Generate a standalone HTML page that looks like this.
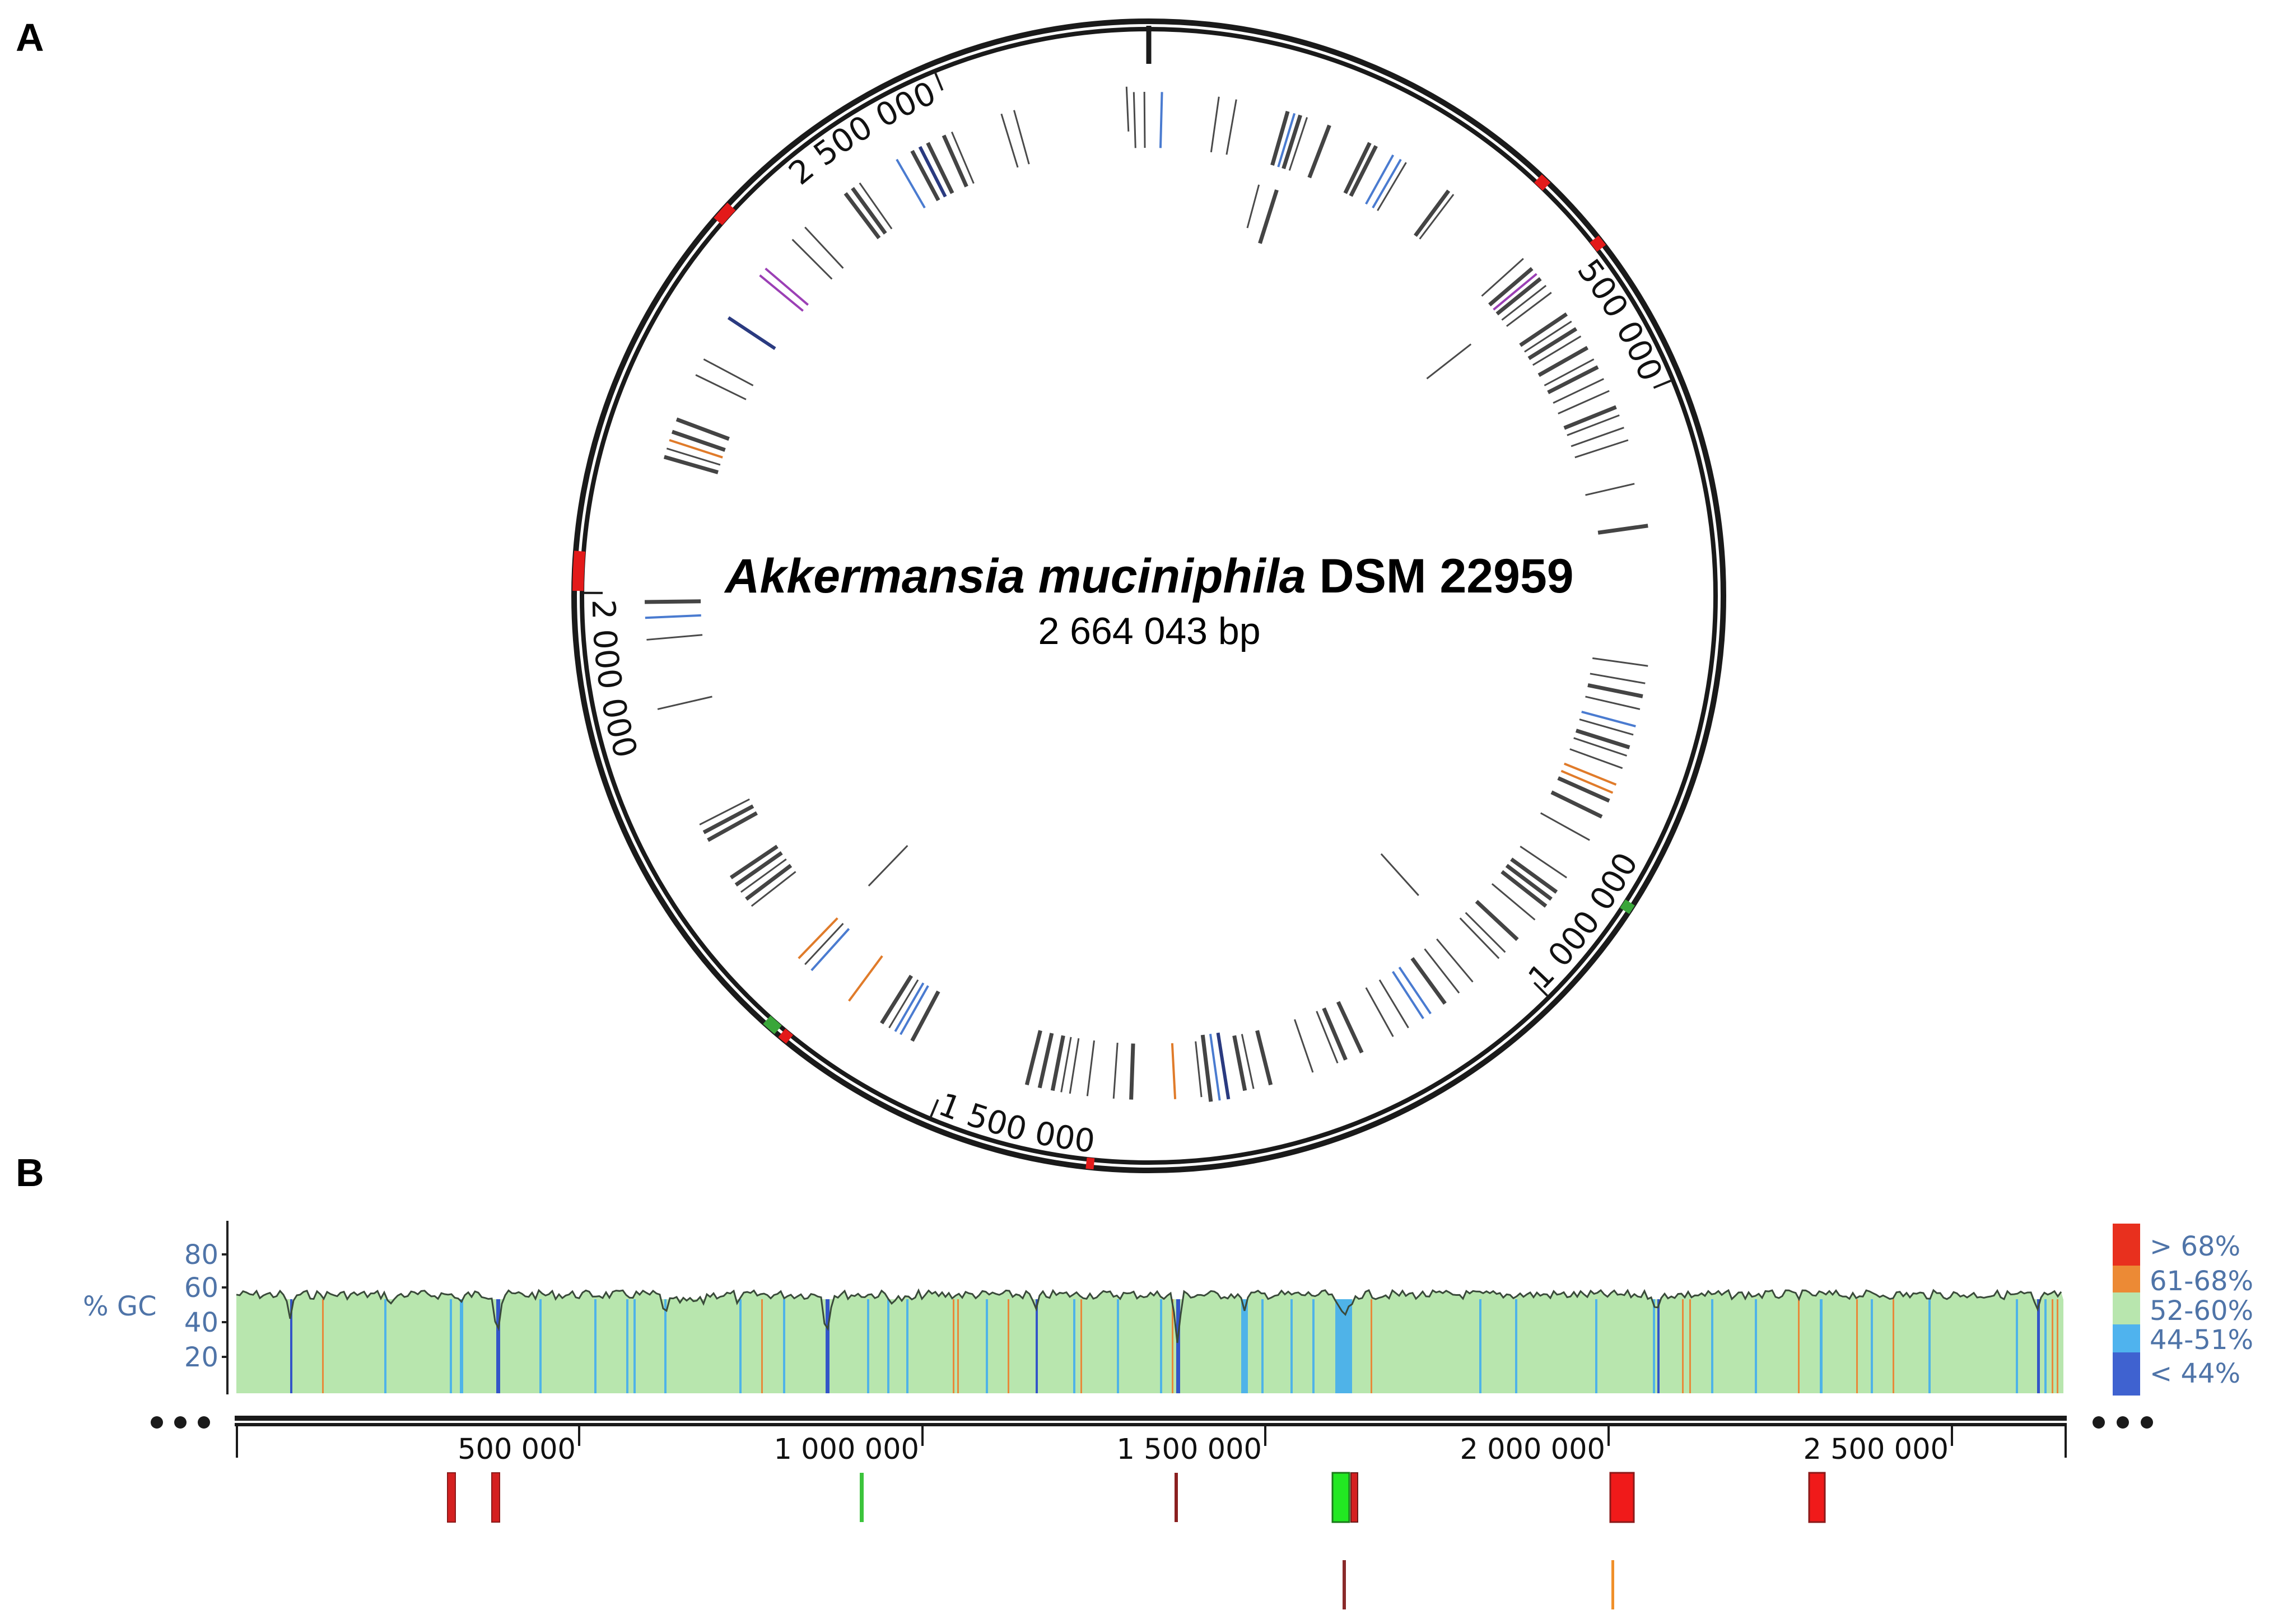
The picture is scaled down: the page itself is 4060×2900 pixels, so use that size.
<!DOCTYPE html>
<html><head><meta charset="utf-8"><style>
html,body{margin:0;padding:0;background:#fff}
svg{display:block}
.t{stroke:#4a4a4a;stroke-width:3}
.k{stroke:#444;stroke-width:7}
.b{stroke:#4a7bd0;stroke-width:4}
.o{stroke:#e07b2a;stroke-width:4}
.p{stroke:#9b3fb5;stroke-width:4}
.n{stroke:#2a3a80;stroke-width:6}
.lb{fill:#4fb3e8}.db{fill:#3355c8}.or{fill:#e8893a}
.lab{font-family:"DejaVu Sans",sans-serif;font-size:57px;fill:#111}
.bl{font-family:"DejaVu Sans",sans-serif;font-size:48px;fill:#4f74a8}
</style></head><body>
<svg width="4060" height="2900" viewBox="0 0 4060 2900" xmlns="http://www.w3.org/2000/svg">
<text x="28" y="91" font-family="Liberation Sans,sans-serif" font-weight="bold" font-size="70">A</text>
<text x="28" y="2118" font-family="Liberation Sans,sans-serif" font-weight="bold" font-size="70">B</text>

<g transform="translate(2051,1064)">
<defs>
<path id="cw" d="M 0,-960 A 960 960 0 1 1 0,960 A 960 960 0 1 1 0,-960"/>
<path id="ccw" d="M -976.9,-172.3 A 992 992 0 1 0 976.9,172.3 A 992 992 0 1 0 -976.9,-172.3"/>
</defs>
<circle r="1026" fill="none" stroke="#1a1a1a" stroke-width="10"/>
<circle r="1012" fill="none" stroke="#1a1a1a" stroke-width="8"/>
<g fill="none" stroke-width="20">
<circle r="1019" stroke="#e31a1a" transform="rotate(-47)" stroke-dasharray="21 10000"/>
<circle r="1019" stroke="#e31a1a" transform="rotate(-38.7)" stroke-dasharray="21 10000"/>
<circle r="1019" stroke="#e31a1a" transform="rotate(221)" stroke-dasharray="36 10000"/>
<circle r="1019" stroke="#e31a1a" transform="rotate(180.5)" stroke-dasharray="71 10000"/>
<circle r="1019" stroke="#e31a1a" transform="rotate(129)" stroke-dasharray="18 10000"/>
<circle r="1019" stroke="#3aa63a" transform="rotate(130.5)" stroke-dasharray="27 10000"/>
<circle r="1019" stroke="#e31a1a" transform="rotate(95.5)" stroke-dasharray="14 10000"/>
<circle r="1019" stroke="#3aa63a" transform="rotate(32.5)" stroke-dasharray="18 10000"/>
</g>
<g stroke="#1a1a1a" stroke-width="4">
<line y1="-950" y2="-1018" stroke-width="9"/>
<line y1="-975" y2="-1008" transform="rotate(67.6)"/>
<line y1="-975" y2="-1008" transform="rotate(135.1)"/>
<line y1="-975" y2="-1008" transform="rotate(202.7)"/>
<line y1="-975" y2="-1008" transform="rotate(270.3)"/>
<line y1="-975" y2="-1008" transform="rotate(337.8)"/>
</g>
<text class="lab" text-anchor="end"><textPath href="#cw" startOffset="5645">2 500 000</textPath></text>
<text class="lab" text-anchor="end"><textPath href="#cw" startOffset="1118">500 000</textPath></text>
<text class="lab"><textPath href="#ccw" startOffset="180">2 000 000</textPath></text>
<text class="lab"><textPath href="#ccw" startOffset="1350">1 500 000</textPath></text>
<text class="lab"><textPath href="#ccw" startOffset="2520">1 000 000</textPath></text>

<g>
<line class="t" y1="-830" y2="-910" transform="rotate(357.5)"/>
<line class="t" y1="-800" y2="-900" transform="rotate(358.3)"/>
<line class="t" y1="-800" y2="-900" transform="rotate(359.5)"/>
<line class="b" y1="-800" y2="-900" transform="rotate(1.5)"/>
<line class="t" y1="-800" y2="-900" transform="rotate(8)"/>
<line class="t" y1="-800" y2="-900" transform="rotate(10)"/>
<line class="k" y1="-800" y2="-900" transform="rotate(16)"/>
<line class="b" y1="-800" y2="-900" transform="rotate(16.8)"/>
<line class="k" y1="-800" y2="-900" transform="rotate(17.5)"/>
<line class="t" y1="-800" y2="-900" transform="rotate(18.3)"/>
<line class="k" y1="-800" y2="-900" transform="rotate(21)"/>
<line class="k" y1="-800" y2="-900" transform="rotate(26)"/>
<line class="k" y1="-800" y2="-900" transform="rotate(26.8)"/>
<line class="b" y1="-800" y2="-900" transform="rotate(29)"/>
<line class="b" y1="-800" y2="-900" transform="rotate(30)"/>
<line class="t" y1="-800" y2="-900" transform="rotate(30.7)"/>
<line class="k" y1="-800" y2="-900" transform="rotate(36.5)"/>
<line class="t" y1="-800" y2="-900" transform="rotate(37.2)"/>
<line class="t" y1="-680" y2="-760" transform="rotate(15)"/>
<line class="k" y1="-660" y2="-760" transform="rotate(17.5)"/>
<line class="t" y1="-800" y2="-900" transform="rotate(48)"/>
<line class="k" y1="-800" y2="-900" transform="rotate(49.5)"/>
<line class="p" y1="-800" y2="-900" transform="rotate(50.3)"/>
<line class="k" y1="-800" y2="-900" transform="rotate(51)"/>
<line class="t" y1="-800" y2="-900" transform="rotate(52)"/>
<line class="t" y1="-800" y2="-900" transform="rotate(53)"/>
<line class="k" y1="-800" y2="-900" transform="rotate(56)"/>
<line class="t" y1="-800" y2="-900" transform="rotate(57)"/>
<line class="k" y1="-800" y2="-900" transform="rotate(58)"/>
<line class="t" y1="-800" y2="-900" transform="rotate(59)"/>
<line class="k" y1="-800" y2="-900" transform="rotate(60.5)"/>
<line class="t" y1="-800" y2="-900" transform="rotate(62)"/>
<line class="k" y1="-800" y2="-900" transform="rotate(63)"/>
<line class="t" y1="-800" y2="-900" transform="rotate(64.5)"/>
<line class="t" y1="-800" y2="-900" transform="rotate(66)"/>
<line class="k" y1="-800" y2="-900" transform="rotate(68)"/>
<line class="t" y1="-800" y2="-900" transform="rotate(69)"/>
<line class="t" y1="-800" y2="-900" transform="rotate(70.5)"/>
<line class="t" y1="-800" y2="-900" transform="rotate(72)"/>
<line class="t" y1="-630" y2="-730" transform="rotate(52)"/>
<line class="t" y1="-800" y2="-890" transform="rotate(77)"/>
<line class="k" y1="-810" y2="-900" transform="rotate(82)"/>
<line class="t" y1="-800" y2="-900" transform="rotate(98)"/>
<line class="t" y1="-800" y2="-900" transform="rotate(100)"/>
<line class="k" y1="-800" y2="-900" transform="rotate(101.5)"/>
<line class="t" y1="-800" y2="-900" transform="rotate(103)"/>
<line class="b" y1="-800" y2="-900" transform="rotate(105)"/>
<line class="t" y1="-800" y2="-900" transform="rotate(106)"/>
<line class="k" y1="-800" y2="-900" transform="rotate(107.5)"/>
<line class="t" y1="-800" y2="-900" transform="rotate(108.5)"/>
<line class="t" y1="-800" y2="-900" transform="rotate(110)"/>
<line class="o" y1="-800" y2="-900" transform="rotate(112)"/>
<line class="o" y1="-800" y2="-900" transform="rotate(113)"/>
<line class="k" y1="-800" y2="-900" transform="rotate(114)"/>
<line class="k" y1="-800" y2="-900" transform="rotate(116)"/>
<line class="t" y1="-800" y2="-900" transform="rotate(119)"/>
<line class="t" y1="-800" y2="-900" transform="rotate(124)"/>
<line class="k" y1="-800" y2="-900" transform="rotate(126)"/>
<line class="k" y1="-800" y2="-900" transform="rotate(127)"/>
<line class="k" y1="-800" y2="-900" transform="rotate(128)"/>
<line class="t" y1="-800" y2="-900" transform="rotate(130)"/>
<line class="k" y1="-800" y2="-900" transform="rotate(133)"/>
<line class="t" y1="-800" y2="-900" transform="rotate(135)"/>
<line class="t" y1="-800" y2="-900" transform="rotate(136)"/>
<line class="t" y1="-620" y2="-720" transform="rotate(138)"/>
<line class="t" y1="-800" y2="-900" transform="rotate(140)"/>
<line class="t" y1="-800" y2="-900" transform="rotate(142)"/>
<line class="k" y1="-800" y2="-900" transform="rotate(144)"/>
<line class="b" y1="-800" y2="-900" transform="rotate(146)"/>
<line class="b" y1="-800" y2="-900" transform="rotate(147)"/>
<line class="t" y1="-800" y2="-900" transform="rotate(149)"/>
<line class="t" y1="-800" y2="-900" transform="rotate(151)"/>
<line class="k" y1="-800" y2="-900" transform="rotate(155)"/>
<line class="k" y1="-800" y2="-900" transform="rotate(157)"/>
<line class="t" y1="-800" y2="-900" transform="rotate(158)"/>
<line class="t" y1="-800" y2="-900" transform="rotate(161)"/>
<line class="k" y1="-800" y2="-900" transform="rotate(166)"/>
<line class="t" y1="-800" y2="-900" transform="rotate(168)"/>
<line class="k" y1="-800" y2="-900" transform="rotate(169)"/>
<line class="n" y1="-790" y2="-910" transform="rotate(171)"/>
<line class="b" y1="-790" y2="-910" transform="rotate(172)"/>
<line class="k" y1="-790" y2="-910" transform="rotate(173)"/>
<line class="t" y1="-800" y2="-900" transform="rotate(174)"/>
<line class="o" y1="-800" y2="-900" transform="rotate(177)"/>
<line class="k" y1="-800" y2="-900" transform="rotate(182)"/>
<line class="t" y1="-800" y2="-900" transform="rotate(184)"/>
<line class="t" y1="-800" y2="-900" transform="rotate(187)"/>
<line class="t" y1="-800" y2="-900" transform="rotate(189)"/>
<line class="t" y1="-800" y2="-900" transform="rotate(190)"/>
<line class="k" y1="-800" y2="-900" transform="rotate(191)"/>
<line class="k" y1="-800" y2="-900" transform="rotate(192.5)"/>
<line class="k" y1="-800" y2="-900" transform="rotate(194)"/>
<line class="k" y1="-800" y2="-900" transform="rotate(208)"/>
<line class="b" y1="-800" y2="-900" transform="rotate(209.5)"/>
<line class="b" y1="-800" y2="-900" transform="rotate(210.2)"/>
<line class="t" y1="-800" y2="-900" transform="rotate(211)"/>
<line class="k" y1="-800" y2="-900" transform="rotate(212)"/>
<line class="o" y1="-800" y2="-900" transform="rotate(216.5)"/>
<line class="b" y1="-800" y2="-900" transform="rotate(222)"/>
<line class="t" y1="-800" y2="-900" transform="rotate(223)"/>
<line class="o" y1="-800" y2="-900" transform="rotate(224)"/>
<line class="t" y1="-620" y2="-720" transform="rotate(224)"/>
<line class="t" y1="-800" y2="-900" transform="rotate(232)"/>
<line class="k" y1="-800" y2="-900" transform="rotate(233)"/>
<line class="t" y1="-800" y2="-900" transform="rotate(234)"/>
<line class="k" y1="-800" y2="-900" transform="rotate(235)"/>
<line class="k" y1="-800" y2="-900" transform="rotate(236)"/>
<line class="k" y1="-800" y2="-900" transform="rotate(241)"/>
<line class="k" y1="-800" y2="-900" transform="rotate(242)"/>
<line class="t" y1="-800" y2="-900" transform="rotate(243)"/>
<line class="t" y1="-800" y2="-900" transform="rotate(257)"/>
<line class="t" y1="-800" y2="-900" transform="rotate(265)"/>
<line class="b" y1="-800" y2="-900" transform="rotate(267.5)"/>
<line class="k" y1="-800" y2="-900" transform="rotate(269.3)"/>
<line class="k" y1="-800" y2="-900" transform="rotate(286)"/>
<line class="t" y1="-800" y2="-900" transform="rotate(287)"/>
<line class="o" y1="-800" y2="-900" transform="rotate(288)"/>
<line class="k" y1="-800" y2="-900" transform="rotate(289)"/>
<line class="k" y1="-800" y2="-900" transform="rotate(290.5)"/>
<line class="t" y1="-800" y2="-900" transform="rotate(296)"/>
<line class="t" y1="-800" y2="-900" transform="rotate(298)"/>
<line class="n" y1="-800" y2="-900" transform="rotate(303.5)"/>
<line class="p" y1="-800" y2="-900" transform="rotate(309.5)"/>
<line class="p" y1="-800" y2="-900" transform="rotate(310.5)"/>
<line class="t" y1="-800" y2="-900" transform="rotate(315)"/>
<line class="t" y1="-800" y2="-900" transform="rotate(317)"/>
<line class="k" y1="-800" y2="-900" transform="rotate(323)"/>
<line class="k" y1="-800" y2="-900" transform="rotate(324)"/>
<line class="t" y1="-800" y2="-900" transform="rotate(325)"/>
<line class="b" y1="-800" y2="-900" transform="rotate(330)"/>
<line class="k" y1="-800" y2="-900" transform="rotate(332)"/>
<line class="n" y1="-800" y2="-900" transform="rotate(333)"/>
<line class="k" y1="-800" y2="-900" transform="rotate(334)"/>
<line class="k" y1="-800" y2="-900" transform="rotate(336)"/>
<line class="t" y1="-800" y2="-900" transform="rotate(337)"/>
<line class="t" y1="-800" y2="-900" transform="rotate(343)"/>
<line class="t" y1="-800" y2="-900" transform="rotate(344.5)"/>
</g>
</g>
<text x="2052" y="1058" text-anchor="middle" font-family="Liberation Sans,sans-serif" font-weight="bold" font-size="86"><tspan font-style="italic">Akkermansia muciniphila</tspan> DSM 22959</text>
<text x="2052" y="1150" text-anchor="middle" font-family="Liberation Sans,sans-serif" font-size="68">2 664 043 bp</text>

<!-- Panel B -->
<rect x="422" y="2320" width="3262" height="168" fill="#b8e6ae"/>
<g id="stripes">
<rect class="lb" x="686" y="2320" width="4" height="168"/><rect class="lb" x="803" y="2320" width="4" height="168"/><rect class="lb" x="821" y="2320" width="6" height="168"/><rect class="lb" x="963" y="2320" width="4" height="168"/><rect class="lb" x="1061" y="2320" width="4" height="168"/><rect class="lb" x="1118" y="2320" width="4" height="168"/><rect class="lb" x="1131" y="2320" width="4" height="168"/><rect class="lb" x="1186" y="2320" width="4" height="168"/><rect class="lb" x="1320" y="2320" width="4" height="168"/><rect class="lb" x="1398" y="2320" width="4" height="168"/><rect class="lb" x="1548" y="2320" width="4" height="168"/><rect class="lb" x="1584" y="2320" width="4" height="168"/><rect class="lb" x="1618" y="2320" width="4" height="168"/><rect class="lb" x="1760" y="2320" width="4" height="168"/><rect class="lb" x="1916" y="2320" width="4" height="168"/><rect class="lb" x="1994" y="2320" width="4" height="168"/><rect class="lb" x="2071" y="2320" width="4" height="168"/><rect class="lb" x="2216" y="2320" width="12" height="168"/><rect class="lb" x="2252" y="2320" width="4" height="168"/><rect class="lb" x="2304" y="2320" width="4" height="168"/><rect class="lb" x="2343" y="2320" width="4" height="168"/><rect class="lb" x="2384" y="2320" width="30" height="168"/><rect class="lb" x="2641" y="2320" width="4" height="168"/><rect class="lb" x="2705" y="2320" width="4" height="168"/><rect class="lb" x="2848" y="2320" width="4" height="168"/><rect class="lb" x="2951" y="2320" width="4" height="168"/><rect class="lb" x="3055" y="2320" width="4" height="168"/><rect class="lb" x="3133" y="2320" width="4" height="168"/><rect class="lb" x="3249" y="2320" width="5" height="168"/><rect class="lb" x="3340" y="2320" width="4" height="168"/><rect class="lb" x="3443" y="2320" width="4" height="168"/><rect class="lb" x="3599" y="2320" width="4" height="168"/><rect class="lb" x="3650" y="2320" width="4" height="168"/>
<rect class="db" x="518" y="2320" width="4" height="168"/><rect class="db" x="886" y="2320" width="7" height="168"/><rect class="db" x="1474" y="2320" width="7" height="168"/><rect class="db" x="1849" y="2320" width="4" height="168"/><rect class="db" x="2100" y="2320" width="7" height="168"/><rect class="db" x="2959" y="2320" width="4" height="168"/><rect class="db" x="3637" y="2320" width="5" height="168"/>
<rect class="or" x="575" y="2320" width="3" height="168"/><rect class="or" x="1359" y="2320" width="3" height="168"/><rect class="or" x="1701" y="2320" width="3" height="168"/><rect class="or" x="1709" y="2320" width="3" height="168"/><rect class="or" x="1799" y="2320" width="3" height="168"/><rect class="or" x="1929" y="2320" width="3" height="168"/><rect class="or" x="2092" y="2320" width="3" height="168"/><rect class="or" x="2447" y="2320" width="3" height="168"/><rect class="or" x="3003" y="2320" width="3" height="168"/><rect class="or" x="3016" y="2320" width="3" height="168"/><rect class="or" x="3210" y="2320" width="3" height="168"/><rect class="or" x="3314" y="2320" width="3" height="168"/><rect class="or" x="3379" y="2320" width="3" height="168"/><rect class="or" x="3663" y="2320" width="3" height="168"/><rect class="or" x="3672" y="2320" width="3" height="168"/>
</g>
<polyline id="gc" fill="none" stroke="#3a4a3a" stroke-width="3" points="422,2318 3684,2318"/>
<script>
(function(){
var dips={518:40,888:70,1476:75,2102:85,1849:30,2959:30,3637:35,700:20,2221:25,2400:30,1186:20,1320:15,823:15};
var s=7,pts=[];function r(){s=(s*9301+49297)%233280;return s/233280;}
for(var x=422;x<=3684;x+=6){
 var y=2312+ (r()-0.5)*16;
 if(x>1180&&x<1260)y+=12; if(x>2380&&x<2420)y+=18; if(x>1580&&x<1640)y+=8;
 for(var k in dips){var d=Math.abs(x-k);if(d<10)y+=dips[k]*(1-d/10);}
 pts.push(x+","+y.toFixed(1));}
var p=document.getElementById('gc');p.setAttribute('points',pts.join(' '));
var poly=document.createElementNS('http://www.w3.org/2000/svg','polygon');
poly.setAttribute('points','422,2321 '+pts.join(' ')+' 3684,2321');
poly.setAttribute('fill','#b8e6ae');
p.parentNode.insertBefore(poly,document.getElementById('stripes'));
})();
</script>
<line x1="406" y1="2180" x2="406" y2="2490" stroke="#222" stroke-width="4"/>
<g stroke="#222" stroke-width="4"><line x1="396" y1="2240" x2="406" y2="2240"/><line x1="396" y1="2299" x2="406" y2="2299"/><line x1="396" y1="2361" x2="406" y2="2361"/><line x1="396" y1="2423" x2="406" y2="2423"/></g>
<g class="bl" text-anchor="end"><text x="390" y="2257">80</text><text x="390" y="2316">60</text><text x="390" y="2378">40</text><text x="390" y="2440">20</text></g>
<text class="bl" x="148" y="2349">% GC</text>

<rect x="3772" y="2185" width="49" height="75" fill="#e8301e"/>
<rect x="3772" y="2260" width="49" height="48" fill="#ec8a35"/>
<rect x="3772" y="2308" width="49" height="57" fill="#b8e6ae"/>
<rect x="3772" y="2365" width="49" height="50" fill="#4fb3ee"/>
<rect x="3772" y="2415" width="49" height="77" fill="#3f62d0"/>
<g class="bl"><text x="3838" y="2242">&gt; 68%</text><text x="3838" y="2304">61-68%</text><text x="3838" y="2357">52-60%</text><text x="3838" y="2409">44-51%</text><text x="3838" y="2469">&lt; 44%</text></g>

<rect x="419" y="2528" width="3271" height="9" fill="#1a1a1a"/>
<rect x="419" y="2541" width="3271" height="6" fill="#1a1a1a"/>
<g fill="#1a1a1a"><circle cx="280" cy="2540" r="11"/><circle cx="322" cy="2540" r="11"/><circle cx="364" cy="2540" r="11"/><circle cx="3747" cy="2540" r="11"/><circle cx="3790" cy="2540" r="11"/><circle cx="3833" cy="2540" r="11"/></g>
<g stroke="#1a1a1a" stroke-width="4"><line x1="423" y1="2545" x2="423" y2="2603"/><line x1="3688" y1="2545" x2="3688" y2="2603"/>
<line x1="1034" y1="2545" x2="1034" y2="2582"/><line x1="1647" y1="2545" x2="1647" y2="2582"/><line x1="2259" y1="2545" x2="2259" y2="2582"/><line x1="2872" y1="2545" x2="2872" y2="2582"/><line x1="3485" y1="2545" x2="3485" y2="2582"/></g>
<g font-family="DejaVu Sans,sans-serif" font-size="51" fill="#111" text-anchor="end"><text x="1028" y="2605">500 000</text><text x="1641" y="2605">1 000 000</text><text x="2253" y="2605">1 500 000</text><text x="2866" y="2605">2 000 000</text><text x="3479" y="2605">2 500 000</text></g>

<rect x="799" y="2630" width="14" height="88" fill="#d42020" stroke="#8a1a1a" stroke-width="2"/>
<rect x="878" y="2630" width="14" height="88" fill="#d42020" stroke="#8a1a1a" stroke-width="2"/>
<rect x="1535" y="2630" width="7" height="88" fill="#3cc43c"/>
<rect x="2097" y="2630" width="6" height="88" fill="#8a2020"/>
<rect x="2379" y="2630" width="30" height="88" fill="#22e822" stroke="#1a7a1a" stroke-width="3"/>
<rect x="2412" y="2630" width="12" height="88" fill="#d42020" stroke="#6a1a1a" stroke-width="2"/>
<rect x="2875" y="2630" width="42" height="88" fill="#f01a1a" stroke="#8a1a1a" stroke-width="3"/>
<rect x="3230" y="2630" width="28" height="88" fill="#f01a1a" stroke="#8a1a1a" stroke-width="3"/>
<rect x="2397" y="2786" width="6" height="88" fill="#8a2a2a"/>
<rect x="2877" y="2786" width="5" height="88" fill="#f0902a"/>
</svg>
</body></html>
